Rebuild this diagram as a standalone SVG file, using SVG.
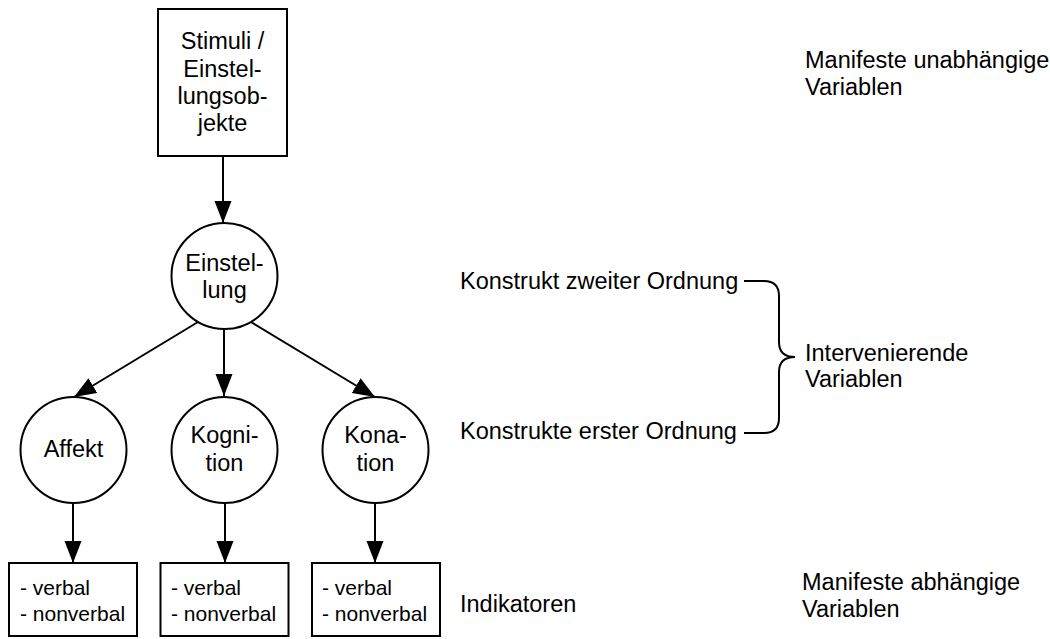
<svg xmlns="http://www.w3.org/2000/svg" width="1050" height="639" viewBox="0 0 1050 639">
  <defs>
    <marker id="arrow" markerUnits="userSpaceOnUse" markerWidth="22" markerHeight="18" refX="22" refY="8.5" orient="auto">
      <path d="M0,0 L22,8.5 L0,17 z" fill="#000"/>
    </marker>
    <style>
      .box { fill: #fff; stroke: #000; stroke-width: 2; }
      .node { fill: #fff; stroke: #000; stroke-width: 2; }
      .edge { fill: none; stroke: #000; stroke-width: 2; marker-end: url(#arrow); }
      .brace { fill: none; stroke: #000; stroke-width: 2; }
      text { font-family: "Liberation Sans", Arial, sans-serif; fill: #000; }
      .lbl { font-size: 23.5px; }
      .mid { text-anchor: middle; }
      .small { font-size: 21px; }
    </style>
  </defs>
  <rect width="1050" height="639" fill="#fff"/>

  <!-- connectors -->
  <g id="connectors">
    <line class="edge" x1="223" y1="156" x2="223" y2="223"/>
    <line class="edge" x1="198" y1="322" x2="74" y2="397"/>
    <line class="edge" x1="224" y1="329" x2="224" y2="396"/>
    <line class="edge" x1="251" y1="322" x2="375" y2="397"/>
    <line class="edge" x1="73" y1="503" x2="73" y2="563"/>
    <line class="edge" x1="225" y1="503" x2="225" y2="563"/>
    <line class="edge" x1="375" y1="503" x2="375" y2="563"/>
  </g>

  <!-- stimulus box -->
  <g id="stimuli">
    <rect class="box" x="158" y="9" width="129" height="147"/>
    <text class="lbl mid" x="222.5" y="49">Stimuli /</text>
    <text class="lbl mid" x="222.5" y="77">Einstel-</text>
    <text class="lbl mid" x="222.5" y="104">lungsob-</text>
    <text class="lbl mid" x="222.5" y="131">jekte</text>
  </g>

  <!-- attitude (second-order construct) -->
  <g id="einstellung">
    <circle class="node" cx="224.5" cy="276" r="53"/>
    <text class="lbl mid" x="224.5" y="271">Einstel-</text>
    <text class="lbl mid" x="224.5" y="298">lung</text>
  </g>

  <!-- first-order constructs -->
  <g id="affekt">
    <circle class="node" cx="73.5" cy="450" r="53"/>
    <text class="lbl mid" x="73.5" y="457">Affekt</text>
  </g>
  <g id="kognition">
    <circle class="node" cx="224.5" cy="450" r="53"/>
    <text class="lbl mid" x="224.5" y="443">Kogni-</text>
    <text class="lbl mid" x="224.5" y="471">tion</text>
  </g>
  <g id="konation">
    <circle class="node" cx="375.5" cy="450" r="53"/>
    <text class="lbl mid" x="375.5" y="443">Kona-</text>
    <text class="lbl mid" x="375.5" y="471">tion</text>
  </g>

  <!-- indicator boxes -->
  <g id="ind-affekt">
    <rect class="box" x="9" y="563" width="128" height="73"/>
    <text class="small" x="20" y="595">- verbal</text>
    <text class="small" x="20" y="621">- nonverbal</text>
  </g>
  <g id="ind-kognition">
    <rect class="box" x="160.5" y="563" width="128" height="73"/>
    <text class="small" x="171" y="595">- verbal</text>
    <text class="small" x="171" y="621">- nonverbal</text>
  </g>
  <g id="ind-konation">
    <rect class="box" x="312" y="563" width="128" height="73"/>
    <text class="small" x="322" y="595">- verbal</text>
    <text class="small" x="322" y="621">- nonverbal</text>
  </g>

  <!-- level labels -->
  <g id="labels">
    <text class="lbl" x="460" y="289">Konstrukt zweiter Ordnung</text>
    <text class="lbl" x="460" y="439">Konstrukte erster Ordnung</text>
    <text class="lbl" x="460" y="612">Indikatoren</text>
    <text class="lbl" x="805" y="68">Manifeste unabhängige</text>
    <text class="lbl" x="805" y="95">Variablen</text>
    <text class="lbl" x="805" y="361">Intervenierende</text>
    <text class="lbl" x="805" y="387">Variablen</text>
    <text class="lbl" x="802" y="590">Manifeste abhängige</text>
    <text class="lbl" x="802" y="617">Variablen</text>
  </g>

  <!-- curly brace -->
  <g id="brace">
    <path class="brace" d="M744,281 H764 Q779,281 779,296 V342 Q779,357 795,357 Q779,357 779,372 V418 Q779,433 764,433 H744"/>
  </g>
</svg>
